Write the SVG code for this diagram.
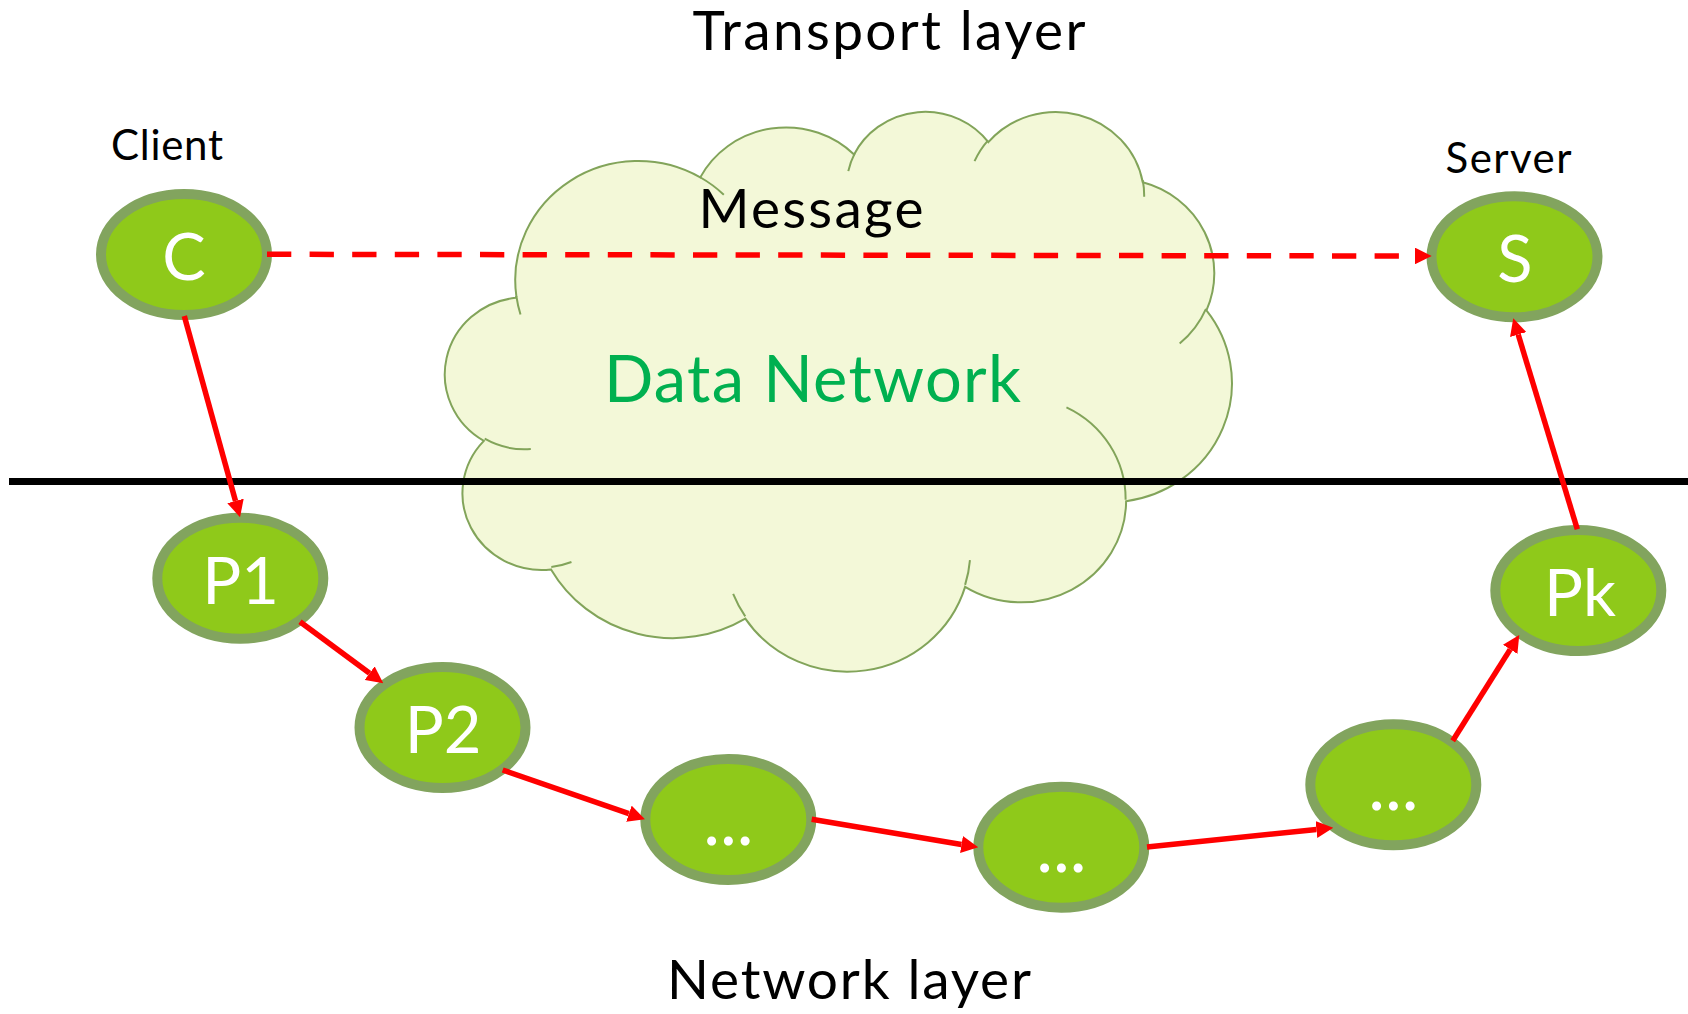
<svg xmlns="http://www.w3.org/2000/svg" width="1688" height="1014" viewBox="0 0 1688 1014">
<defs>
<style>
.node ellipse { fill:#8FC91A; stroke:#82A45E; stroke-width:10; }
.node text { fill:#FFFFFF; font-family:Lato, 'Liberation Sans', sans-serif; font-size:65px; text-anchor:middle; }
.node text.dots { font-size:71px; }
.lbl { fill:#000000; font-family:Lato, 'Liberation Sans', sans-serif; text-anchor:middle; }
.big { font-size:55px; }
.small { font-size:42px; }
.conn { stroke:#FF0000; stroke-width:5.5; fill:none; marker-end:url(#arrow); }
.dash { stroke-dasharray:24.3 18.3; }
.cloud { fill:#F3F8D8; stroke:#82A45A; stroke-width:2; vector-effect:non-scaling-stroke; }
.cloudin { fill:none; stroke:#82A45A; stroke-width:2; vector-effect:non-scaling-stroke; }
</style>
<marker id="arrow" markerUnits="userSpaceOnUse" markerWidth="17" markerHeight="17" viewBox="0 0 17 17" refX="0" refY="8.5" orient="auto">
<path d="M0,0 L17,8.5 L0,17 Z" fill="#FF0000"/>
</marker>
</defs>
<rect x="0" y="0" width="1688" height="1014" fill="#FFFFFF"/>

<g id="cloud" transform="translate(445.4 110) scale(0.018197 0.012953)">
<path class="cloud" d="M3900 14370 A6753 9190 0 0 1 14006 5203 A5333 7267 0 0 1 22459 3435 A4365 5945 0 0 1 29837 2486 A4857 6595 0 0 1 38323 5581 A5333 7273 0 0 1 41823 15465 A6775 9220 0 0 1 37408 30207 A5785 7867 0 0 1 28560 36817 A6752 9215 0 0 1 16482 39263 A7720 10543 0 0 1 5805 35468 A4360 5918 0 0 1 2114 25546 A4345 5945 0 0 1 3865 14503 Z"/>
<path class="cloudin" d="M4693 26177 A4345 5945 0 0 1 2159 25379 M6928 34899 A4360 5918 0 0 1 5820 35280 M16478 39090 A6752 9215 0 0 1 15813 37355 M28827 34751 A6752 9215 0 0 1 28560 36660 M34129 22954 A5785 7867 0 0 1 37380 30089 M41798 15354 A5333 7273 0 0 1 40351 18029 M38324 5426 A4857 6595 0 0 1 38400 6690 M29078 3952 A4857 6595 0 0 1 29820 2340 M22141 4720 A4365 5945 0 0 1 22500 3330 M14000 5192 A6753 9190 0 0 1 15300 6542 M4127 15789 A6753 9190 0 0 1 3900 14371"/>
</g>

<g id="divider">
<line x1="9" y1="481.5" x2="1688" y2="481.5" stroke="#000000" stroke-width="7"/>
</g>

<g id="labels">
<text class="lbl big" x="889" y="50" textLength="393" lengthAdjust="spacing">Transport layer</text>
<text class="lbl big" x="849" y="998.5" textLength="364" lengthAdjust="spacing">Network layer</text>
<text class="lbl big" x="811" y="227.5" textLength="225" lengthAdjust="spacing">Message</text>
<text class="lbl" x="812.5" y="401.5" font-size="65" style="fill:#00B050" textLength="417" lengthAdjust="spacing">Data Network</text>
<text class="lbl small" x="167" y="160" textLength="112" lengthAdjust="spacing">Client</text>
<text class="lbl small" x="1508.5" y="172.5" textLength="126" lengthAdjust="spacing">Server</text>
</g>

<g id="node-C" class="node"><ellipse cx="184" cy="254.5" rx="83" ry="60.5"/><text x="184" y="280">C</text></g>
<g id="node-S" class="node"><ellipse cx="1514.5" cy="256.8" rx="83" ry="60.5"/><text x="1515" y="282">S</text></g>
<g id="node-P1" class="node"><ellipse cx="240.3" cy="578.3" rx="83" ry="60.5"/><text x="240.5" y="603.5">P1</text></g>
<g id="node-P2" class="node"><ellipse cx="442.5" cy="727.5" rx="83" ry="60.5"/><text x="443" y="752.7">P2</text></g>
<g id="node-D1" class="node"><ellipse cx="728.3" cy="819.5" rx="83" ry="60.5"/><text class="dots" x="728.3" y="844.5">...</text></g>
<g id="node-D2" class="node"><ellipse cx="1061.3" cy="847.2" rx="83" ry="60.5"/><text class="dots" x="1061.3" y="872">...</text></g>
<g id="node-D3" class="node"><ellipse cx="1393.3" cy="784.7" rx="83" ry="60.5"/><text class="dots" x="1393.3" y="809.5">...</text></g>
<g id="node-Pk" class="node"><ellipse cx="1578.3" cy="590.5" rx="83" ry="60.5"/><text x="1580" y="616">Pk</text></g>

<g id="connectors">
<line class="conn dash" x1="267" y1="254.3" x2="1414.7" y2="256"/>
<line class="conn" x1="184.3" y1="316" x2="235.5" y2="500.9"/>
<line class="conn" x1="300" y1="621.7" x2="369.6" y2="673.2"/>
<line class="conn" x1="502.7" y1="770" x2="628.9" y2="813.7"/>
<line class="conn" x1="811.7" y1="819.3" x2="961.5" y2="844.5"/>
<line class="conn" x1="1147" y1="847" x2="1316.4" y2="829.5"/>
<line class="conn" x1="1452.7" y1="740.7" x2="1510.2" y2="649.4"/>
<line class="conn" x1="1577.3" y1="529.3" x2="1518.2" y2="334.5"/>
</g>
</svg>
